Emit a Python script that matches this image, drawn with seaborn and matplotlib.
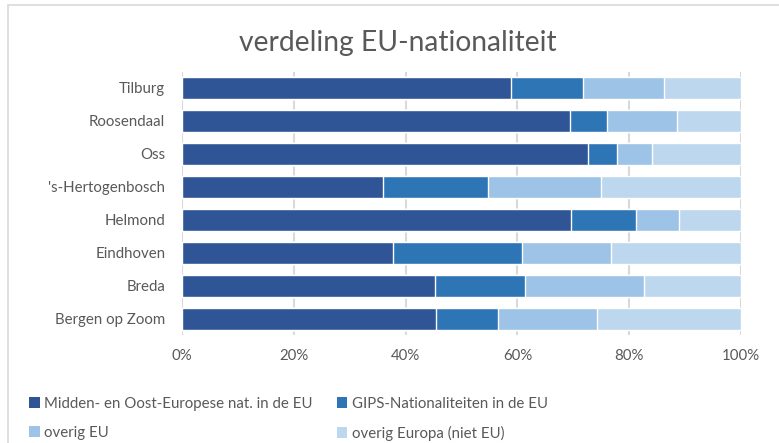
import pandas as pd
import matplotlib.pyplot as plt
import seaborn as sns
from matplotlib.patches import Patch, Rectangle
from matplotlib.ticker import PercentFormatter

# data (percent of total per city)
cities = ['Tilburg', 'Roosendaal', 'Oss', "'s-Hertogenbosch", 'Helmond',
          'Eindhoven', 'Breda', 'Bergen op Zoom']
midden_oost = [58.9, 69.5, 72.7, 36.0, 69.6, 37.7, 45.2, 45.5]
gips = [12.9, 6.6, 5.2, 18.7, 11.7, 23.1, 16.1, 11.0]
overig_eu = [14.5, 12.4, 6.1, 20.3, 7.7, 16.0, 21.4, 17.8]
overig_europa = [13.7, 11.5, 16.0, 25.0, 11.0, 23.2, 17.3, 25.7]

series = ['Midden- en Oost-Europese nat. in de EU', 'GIPS-Nationaliteiten in de EU',
          'overig EU', 'overig Europa (niet EU)']
colors = ['#2F5597', '#2E75B6', '#9DC3E6', '#BDD7EE']

df = pd.DataFrame({'city': cities, series[0]: midden_oost, series[1]: gips,
                   series[2]: overig_eu, series[3]: overig_europa})
cum = df[series].cumsum(axis=1)
cum = cum.div(cum[series[-1]], axis=0) * 100
cum['city'] = cities

sns.set_style('white')
plt.rcParams['font.family'] = ['Lato', 'DejaVu Sans']

fig = plt.figure(figsize=(7.79, 4.43), dpi=100)
ax = fig.add_axes([0.2336, 0.2427, 0.7176, 0.5959])

# stacked bars: draw cumulative totals from the back to the front
for s, c in reversed(list(zip(series, colors))):
    sns.barplot(data=cum, y='city', x=s, order=cities, color=c, width=0.67,
                orient='h', ax=ax, saturation=1, zorder=3)

ax.set_xlim(0, 100)
ax.set_xticks(range(0, 101, 20))
ax.xaxis.set_major_formatter(PercentFormatter(decimals=0))
ax.grid(axis='x', color='#D9D9D9', linewidth=1.5, zorder=0)
ax.grid(axis='y', visible=False)
ax.set_axisbelow(True)
for sp in ax.spines.values():
    sp.set_visible(False)
ax.set_xlabel('')
ax.set_ylabel('')
ax.tick_params(axis='both', length=0, labelsize=10.8, colors='#595959', pad=12)
ax.tick_params(axis='x', pad=10)

fig.text(398 / 779, 0.903, 'verdeling EU-nationaliteit', ha='center', va='center',
         fontsize=20.3, color='#595959')

# legend filled row by row like the original
h = [Patch(facecolor=c, edgecolor='none', label=s) for s, c in zip(series, colors)]
handles = [h[0], h[2], h[1], h[3]]
fig.legend(handles=handles, loc='lower left', bbox_to_anchor=(0.02, -0.025), ncol=2,
           frameon=False, fontsize=10.8, labelcolor='#595959', handlelength=0.7,
           handleheight=0.7, handletextpad=0.3, columnspacing=1.6, labelspacing=1.0)

# chart area border (screenshot crop)
fig.patches.append(Rectangle((8 / 779, -0.1), 1.1, 1.1 - 5 / 443, transform=fig.transFigure,
                             fill=False, edgecolor='#D9D9D9', linewidth=1.2))

fig.savefig('out.png', dpi=100)
